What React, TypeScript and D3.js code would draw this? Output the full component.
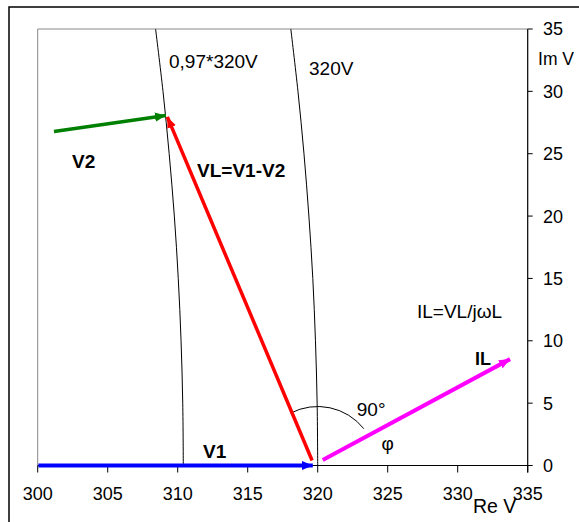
import * as d3 from 'd3';

// axis ticks
const xTicks = [300, 305, 310, 315, 320, 325, 330, 335];
const yTicks = [0, 5, 10, 15, 20, 25, 30, 35];

// circle of constant voltage: 320 V (points read at each 5 V of Im)
const arc320Im = [0, 5, 10, 15, 20, 25, 30, 35];
const arc320Re = [320.0, 319.96, 319.84, 319.65, 319.37, 319.02, 318.59, 318.08];
// circle 0.97 * 320 V
const arc97Im = [0, 5, 10, 15, 20, 25, 30, 35];
const arc97Re = [310.4, 310.36, 310.24, 310.04, 309.76, 309.39, 308.95, 308.42];

// phasors [Re, Im] start -> end
const v1 = [[300.05, 0], [319.65, 0]];
const v2 = [[301.16, 26.78], [309.16, 28.06]];
const vl = [[319.6, 0.4], [309.26, 27.95]];
const il = [[320.36, 0.44], [333.74, 8.53]];

const W = 579;
const H = 522;
const margin = { left: 37.7, right: 51.3, top: 29, bottom: 56.5 };

const x = d3.scaleLinear().domain([300, 335]).range([margin.left, W - margin.right]);
const y = d3.scaleLinear().domain([0, 35]).range([H - margin.bottom, margin.top]);

const font = "'Liberation Sans', Arial, sans-serif";

const curve = d3
  .line<[number, number]>()
  .x(d => x(d[0]))
  .y(d => y(d[1]))
  .curve(d3.curveCatmullRom);

const straight = d3
  .line<number[]>()
  .x(d => x(d[0]))
  .y(d => y(d[1]));

const zip = (re: number[], im: number[]) => re.map((r, i) => [r, im[i]] as [number, number]);

// 90 degree mark round the origin of VL and IL
const angleArc = (() => {
  const cx = x(320);
  const cy = y(0);
  const r = 59;
  const a0 = (-117.4 * Math.PI) / 180;
  const a1 = (-38.6 * Math.PI) / 180;
  const p = d3.path();
  p.moveTo(cx + r * Math.cos(a0), cy + r * Math.sin(a0));
  p.arc(cx, cy, r, a0, a1, false);
  return p.toString();
})();

const labels = [
  { text: '0,97*320V', re: 309.38, im: 31.85, bold: false, size: 19 },
  { text: '320V', re: 319.38, im: 31.3, bold: false, size: 19 },
  { text: 'V2', re: 302.45, im: 23.86, bold: true, size: 19 },
  { text: 'VL=V1-V2', re: 311.38, im: 23.13, bold: true, size: 19 },
  { text: 'IL=VL/jωL', re: 327.09, im: 11.83, bold: false, size: 19 },
  { text: 'IL', re: 331.24, im: 8.06, bold: true, size: 18 },
  { text: '90°', re: 322.79, im: 3.99, bold: false, size: 19 },
  { text: 'φ', re: 324.56, im: 1.24, bold: false, size: 19 },
  { text: 'V1', re: 311.81, im: 0.6, bold: true, size: 19 },
  { text: 'Im V', re: 335.74, im: 32.12, bold: false, size: 17.5 },
  { text: 'Re V', re: 331.09, im: -3.81, bold: false, size: 19.5 },
];

const phasors = [
  { id: 'v1', pts: v1, color: '#0000ff', width: 4 },
  { id: 'v2', pts: v2, color: '#008000', width: 3.5 },
  { id: 'vl', pts: vl, color: '#ff0000', width: 3.5 },
  { id: 'il', pts: il, color: '#ff00ff', width: 4 },
];

export default function App() {
  const x0 = x.range()[0];
  const x1 = x.range()[1];
  const y0 = y.range()[0];
  const y1 = y.range()[1];
  return (
    <svg
      width={W}
      height={H}
      style={{ position: 'fixed', left: 0, top: 0, background: '#fff' }}
      fontFamily={font}
    >
      <defs>
        {phasors.map(p => (
          <marker
            key={p.id}
            id={`head-${p.id}`}
            markerUnits="userSpaceOnUse"
            markerWidth={12}
            markerHeight={10}
            viewBox="0 -5 12 10"
            refX={11}
            refY={0}
            orient="auto"
          >
            <path d="M0,-4.6L11,0L0,4.6Z" fill={p.color} />
          </marker>
        ))}
      </defs>

      <rect x={9} y={7} width={640} height={640} fill="#fff" stroke="#000" strokeWidth={1.5} />

      {/* plot frame */}
      <line x1={x0} y1={y1} x2={x1} y2={y1} stroke="#888" strokeWidth={1} />
      <line x1={x0} y1={y1} x2={x0} y2={y0} stroke="#888" strokeWidth={1} />

      {/* constant voltage circles */}
      <path d={curve(zip(arc97Re, arc97Im)) ?? ''} fill="none" stroke="#000" strokeWidth={1} />
      <path d={curve(zip(arc320Re, arc320Im)) ?? ''} fill="none" stroke="#000" strokeWidth={1} />

      {/* x axis */}
      <line x1={x0} y1={y0} x2={x1} y2={y0} stroke="#000" strokeWidth={1.2} />
      {xTicks.map(t => (
        <g key={`x${t}`}>
          <line x1={x(t)} y1={y0} x2={x(t)} y2={y0 + 7} stroke="#000" strokeWidth={1} />
          <text x={x(t)} y={500} textAnchor="middle" fontSize={18}>
            {t}
          </text>
        </g>
      ))}

      {/* y axis on the right */}
      <line x1={x1} y1={y1} x2={x1} y2={y0 + 7} stroke="#000" strokeWidth={1.2} />
      {yTicks.map(t => (
        <g key={`y${t}`}>
          <line x1={x1} y1={y(t)} x2={x1 + 5} y2={y(t)} stroke="#000" strokeWidth={1} />
          <text x={543} y={y(t)} dy="0.36em" fontSize={18}>
            {t}
          </text>
        </g>
      ))}

      <path d={angleArc} fill="none" stroke="#000" strokeWidth={1} />

      {phasors.map(p => (
        <path
          key={p.id}
          d={straight(p.pts) ?? ''}
          fill="none"
          stroke={p.color}
          strokeWidth={p.width}
          markerEnd={`url(#head-${p.id})`}
        />
      ))}

      {labels.map(l => (
        <text
          key={l.text}
          x={x(l.re)}
          y={y(l.im)}
          fontSize={l.size}
          fontWeight={l.bold ? 'bold' : 'normal'}
        >
          {l.text}
        </text>
      ))}
    </svg>
  );
}
